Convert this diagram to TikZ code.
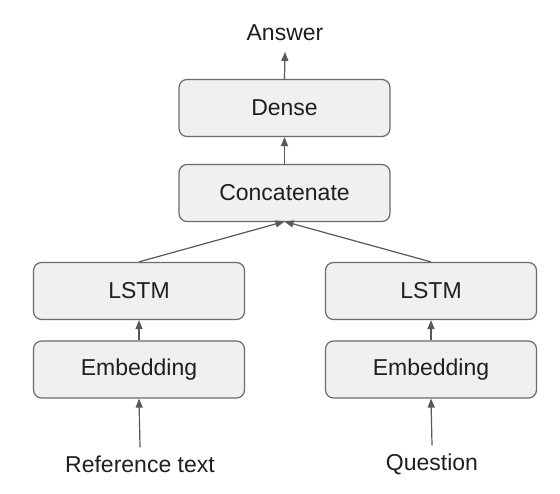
\documentclass[tikz,border=0pt]{standalone}
\usepackage{fontspec}
\setmainfont{Liberation Sans}
\usetikzlibrary{arrows.meta}
\begin{document}
\begin{tikzpicture}[x=1pt,y=-1pt,
  layer/.style={draw=black!58, fill=black!6, line width=1.2pt, rounded corners=8pt,
    minimum width=211pt, minimum height=57pt, inner sep=0pt, text=black!88, font=\fontsize{23}{27}\selectfont},
  lbl/.style={text=black!88, font=\fontsize{23}{27}\selectfont, inner sep=0pt},
  conn/.style={draw=black!65, line width=1.2pt, -{Triangle[length=9pt,width=7pt]}}]
\useasboundingbox[fill=white] (0,0) rectangle (560,494);
\node[lbl] (ans) at (285,33) {Answer};
\node[layer] (dense) at (284.5,108) {Dense};
\node[layer] (concat) at (284.5,193) {Concatenate};
\node[layer] (lstmL) at (139,291) {LSTM};
\node[layer] (embL) at (139,369.5) {Embedding};
\node[layer] (lstmR) at (431,291) {LSTM};
\node[layer] (embR) at (431,369.5) {Embedding};
\node[lbl] (ref) at (140,464) {Reference text};
\node[lbl] (q) at (432,464) {Question};
\coordinate (ansb) at (285,52);
\coordinate (cb) at (284.5,221.5);
\draw[conn] (dense.north) -- (ansb);
\draw[conn] (concat.north) -- (dense.south);
\draw[conn] (lstmL.north) -- (cb);
\draw[conn] (lstmR.north) -- (cb);
\draw[conn] (embL.north) -- (lstmL.south);
\draw[conn] (embR.north) -- (lstmR.south);
\draw[conn] (ref.north) ++(0,-8) -- (embL.south);
\draw[conn] (q.north) ++(0,-8) -- (embR.south);
\end{tikzpicture}
\end{document}
